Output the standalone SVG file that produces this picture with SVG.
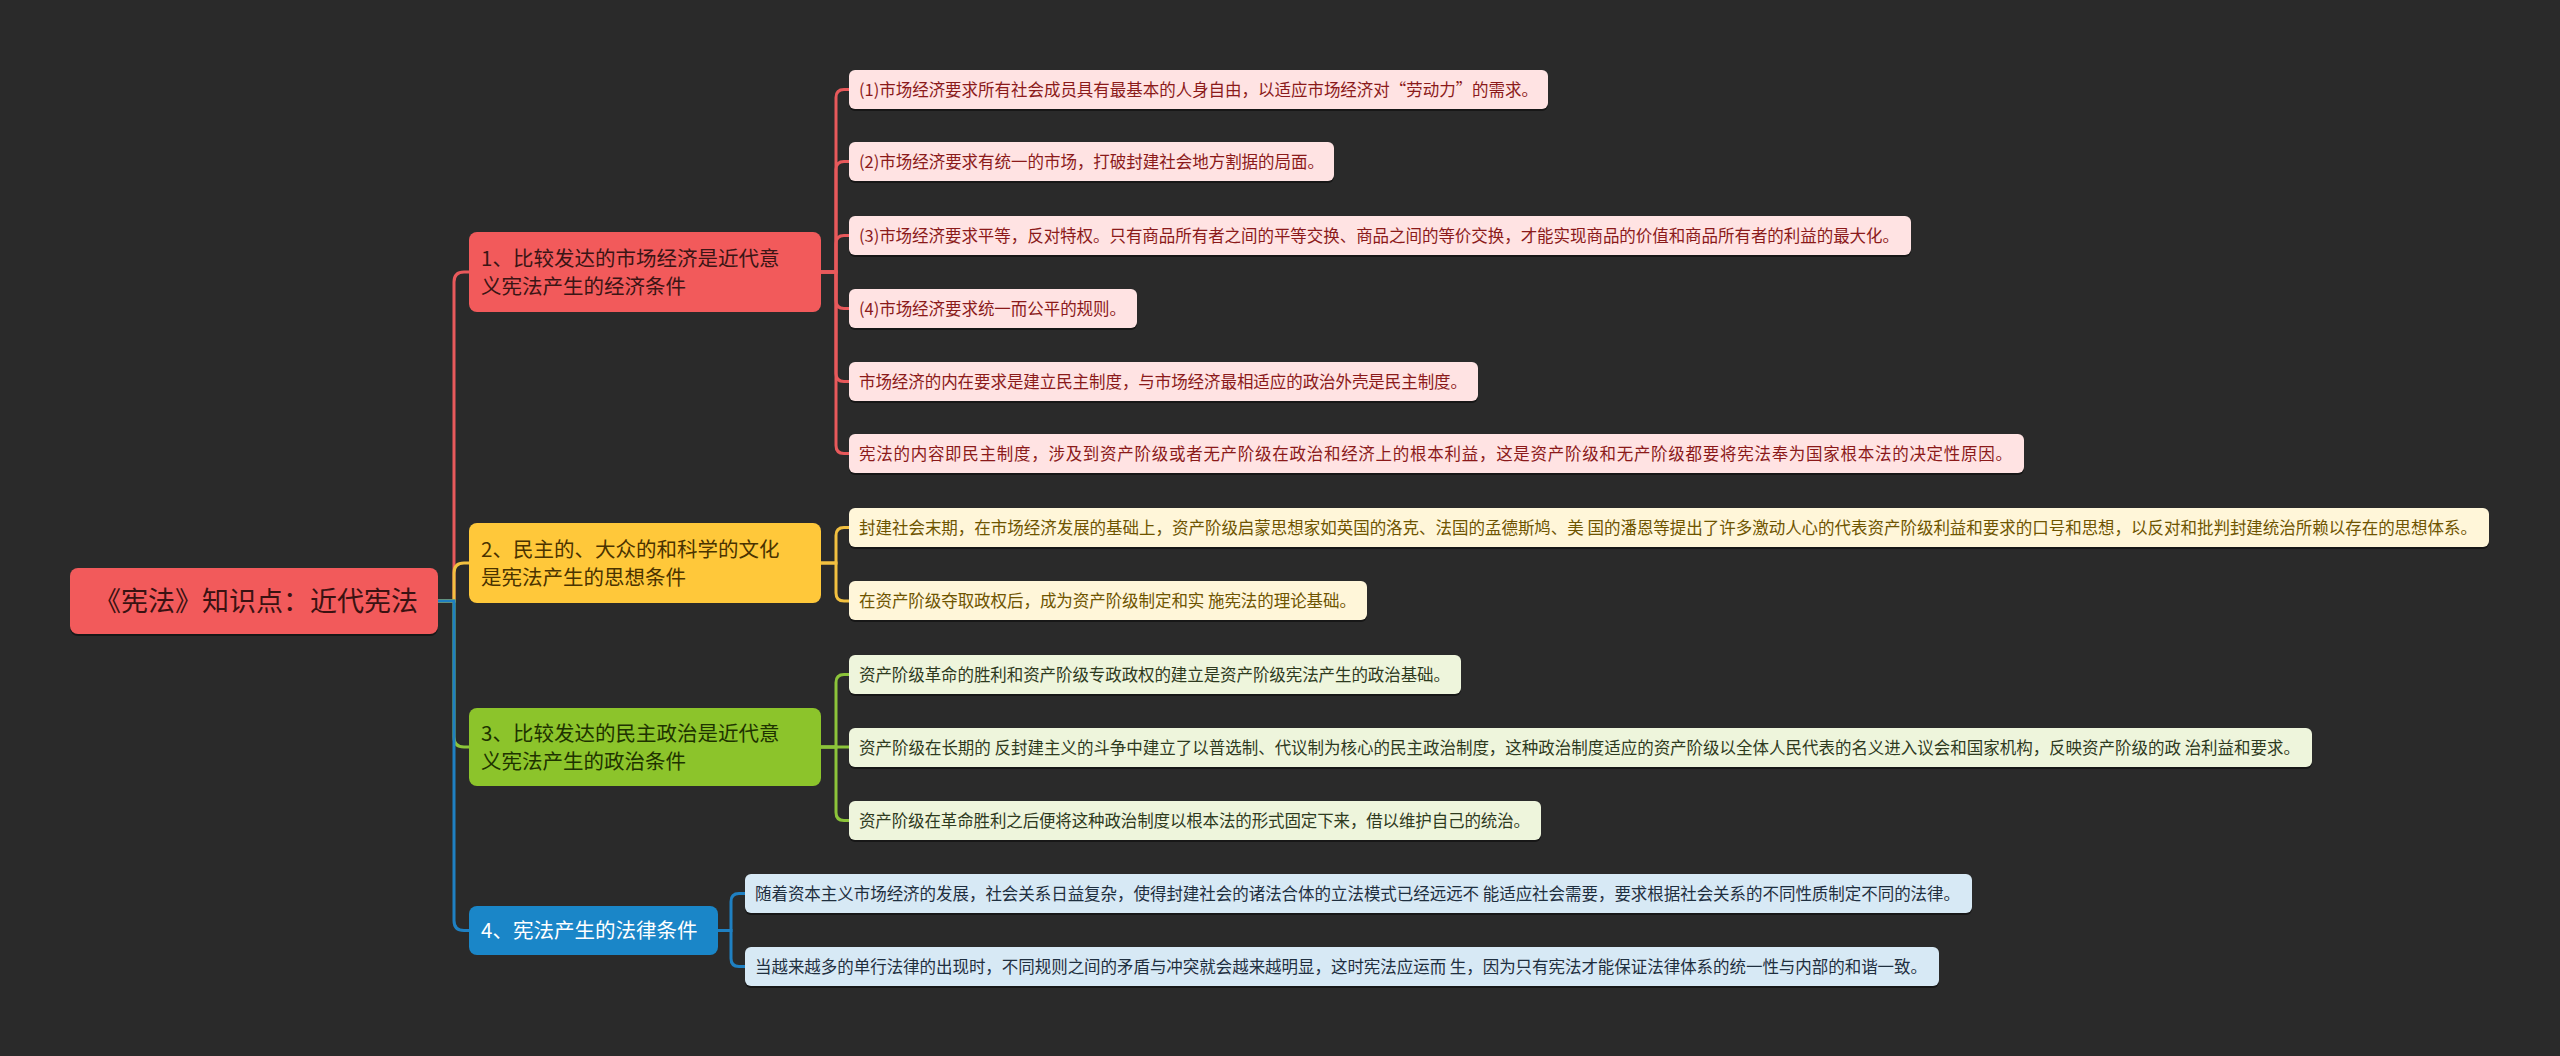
<svg xmlns="http://www.w3.org/2000/svg" width="2560" height="1056" viewBox="0 0 2560 1056">
<style>
text{font-family:"Noto Sans CJK SC","Noto Sans",sans-serif;}
.root{fill:#F25A5B;}
.rt{font-size:27px;fill:#3a1212;}
.bt{font-size:20.5px;}
.lt{font-size:16.5px;}
.sh{fill:#111;opacity:.75;}
.c{fill:none;stroke-width:3;}
.cr{stroke:#E8595B;} .cy{stroke:#F2C040;} .cg{stroke:#8CC43A;} .cb{stroke:#1F80C2;}
.p{fill:#FFE3E3;} .pt{fill:#8B1A1A;}
.y{fill:#FFF6D9;} .yt{fill:#6E5400;}
.g{fill:#EEF5DC;} .gt{fill:#2E3A1E;}
.b{fill:#D7E9F5;} .btx{fill:#1F2F3F;}
</style>
<rect width="2560" height="1056" fill="#2a2a2a"/>
<g id="connectors">
<path class="c cr" d="M438,601 H454 V282 Q454,272 464,272 H469"/>
<path class="c cy" d="M438,601 H454 V573 Q454,563 464,563 H469"/>
<path class="c cg" d="M438,601 H454 V737 Q454,747 464,747 H469"/>
<path class="c cb" d="M438,601 H454 V920.5 Q454,930.5 464,930.5 H469"/>
<path class="c cr" d="M820,272 H836 V97.5 Q836,89.5 844,89.5 H849"/>
<path class="c cr" d="M820,272 H836 V169.5 Q836,161.5 844,161.5 H849"/>
<path class="c cr" d="M820,272 H836 V243.5 Q836,235.5 844,235.5 H849"/>
<path class="c cr" d="M820,272 H836 V300.5 Q836,308.5 844,308.5 H849"/>
<path class="c cr" d="M820,272 H836 V373.5 Q836,381.5 844,381.5 H849"/>
<path class="c cr" d="M820,272 H836 V445.5 Q836,453.5 844,453.5 H849"/>
<path class="c cy" d="M820,563 H836 V535.5 Q836,527.5 844,527.5 H849"/>
<path class="c cy" d="M820,563 H836 V593 Q836,601 844,601 H849"/>
<path class="c cg" d="M820,747 H836 V682.5 Q836,674.5 844,674.5 H849"/>
<path class="c cg" d="M820,747 H849"/>
<path class="c cg" d="M820,747 H836 V812.5 Q836,820.5 844,820.5 H849"/>
<path class="c cb" d="M718,930.5 H731 V901.5 Q731,893.5 739,893.5 H745"/>
<path class="c cb" d="M718,930.5 H731 V958.5 Q731,966.5 739,966.5 H745"/>
</g>
<g id="root">
<rect class="sh" x="70" y="570" width="368" height="66" rx="8"/>
<rect class="root" x="70" y="568" width="368" height="66" rx="8"/>
<text class="rt" x="256" y="611" text-anchor="middle">《宪法》知识点：近代宪法</text>
</g>
<g id="branch1">
<rect x="469" y="232" width="352" height="80" rx="8" fill="#F25A5B"/>
<text class="bt" fill="#3b1515"><tspan x="481" y="266">1、比较发达的市场经济是近代意</tspan><tspan x="481" y="294">义宪法产生的经济条件</tspan></text>
</g>
<g id="branch2">
<rect x="469" y="523" width="352" height="80" rx="8" fill="#FFC83A"/>
<text class="bt" fill="#4a3300"><tspan x="481" y="557">2、民主的、大众的和科学的文化</tspan><tspan x="481" y="585">是宪法产生的思想条件</tspan></text>
</g>
<g id="branch3">
<rect x="469" y="708" width="352" height="78" rx="8" fill="#8CC42B"/>
<text class="bt" fill="#1e3300"><tspan x="481" y="741">3、比较发达的民主政治是近代意</tspan><tspan x="481" y="769">义宪法产生的政治条件</tspan></text>
</g>
<g id="branch4">
<rect x="469" y="906" width="249" height="49" rx="8" fill="#1A86C8"/>
<text class="bt" fill="#ffffff" x="481" y="938">4、宪法产生的法律条件</text>
</g>
<g id="leaf1-1"><rect class="sh" x="849" y="72" width="699" height="39" rx="6"/><rect class="p" x="849" y="70" width="699" height="39" rx="6"/><text class="lt pt" x="859" y="96" textLength="679">(1)市场经济要求所有社会成员具有最基本的人身自由，以适应市场经济对“劳动力”的需求。</text></g>
<g id="leaf1-2"><rect class="sh" x="849" y="144" width="485" height="39" rx="6"/><rect class="p" x="849" y="142" width="485" height="39" rx="6"/><text class="lt pt" x="859" y="168" textLength="465">(2)市场经济要求有统一的市场，打破封建社会地方割据的局面。</text></g>
<g id="leaf1-3"><rect class="sh" x="849" y="218" width="1062" height="39" rx="6"/><rect class="p" x="849" y="216" width="1062" height="39" rx="6"/><text class="lt pt" x="859" y="242" textLength="1040">(3)市场经济要求平等，反对特权。只有商品所有者之间的平等交换、商品之间的等价交换，才能实现商品的价值和商品所有者的利益的最大化。</text></g>
<g id="leaf1-4"><rect class="sh" x="849" y="291" width="288" height="39" rx="6"/><rect class="p" x="849" y="289" width="288" height="39" rx="6"/><text class="lt pt" x="859" y="315" textLength="267">(4)市场经济要求统一而公平的规则。</text></g>
<g id="leaf1-5"><rect class="sh" x="849" y="364" width="629" height="39" rx="6"/><rect class="p" x="849" y="362" width="629" height="39" rx="6"/><text class="lt pt" x="859" y="388" textLength="608">市场经济的内在要求是建立民主制度，与市场经济最相适应的政治外壳是民主制度。</text></g>
<g id="leaf1-6"><rect class="sh" x="849" y="436" width="1175" height="39" rx="6"/><rect class="p" x="849" y="434" width="1175" height="39" rx="6"/><text class="lt pt" x="859" y="460" textLength="1153">宪法的内容即民主制度，涉及到资产阶级或者无产阶级在政治和经济上的根本利益，这是资产阶级和无产阶级都要将宪法奉为国家根本法的决定性原因。</text></g>
<g id="leaf2-1"><rect class="sh" x="849" y="510" width="1640" height="39" rx="6"/><rect class="y" x="849" y="508" width="1640" height="39" rx="6"/><text class="lt yt" x="859" y="534" textLength="1618">封建社会末期，在市场经济发展的基础上，资产阶级启蒙思想家如英国的洛克、法国的孟德斯鸠、美 国的潘恩等提出了许多激动人心的代表资产阶级利益和要求的口号和思想，以反对和批判封建统治所赖以存在的思想体系。</text></g>
<g id="leaf2-2"><rect class="sh" x="849" y="583" width="518" height="39" rx="6"/><rect class="y" x="849" y="581" width="518" height="39" rx="6"/><text class="lt yt" x="859" y="607" textLength="497">在资产阶级夺取政权后，成为资产阶级制定和实 施宪法的理论基础。</text></g>
<g id="leaf3-1"><rect class="sh" x="849" y="657" width="612" height="39" rx="6"/><rect class="g" x="849" y="655" width="612" height="39" rx="6"/><text class="lt gt" x="859" y="681" textLength="591">资产阶级革命的胜利和资产阶级专政政权的建立是资产阶级宪法产生的政治基础。</text></g>
<g id="leaf3-2"><rect class="sh" x="849" y="730" width="1463" height="39" rx="6"/><rect class="g" x="849" y="728" width="1463" height="39" rx="6"/><text class="lt gt" x="859" y="754" textLength="1441">资产阶级在长期的 反封建主义的斗争中建立了以普选制、代议制为核心的民主政治制度，这种政治制度适应的资产阶级以全体人民代表的名义进入议会和国家机构，反映资产阶级的政 治利益和要求。</text></g>
<g id="leaf3-3"><rect class="sh" x="849" y="803" width="692" height="39" rx="6"/><rect class="g" x="849" y="801" width="692" height="39" rx="6"/><text class="lt gt" x="859" y="827" textLength="671">资产阶级在革命胜利之后便将这种政治制度以根本法的形式固定下来，借以维护自己的统治。</text></g>
<g id="leaf4-1"><rect class="sh" x="745" y="876" width="1227" height="39" rx="6"/><rect class="b" x="745" y="874" width="1227" height="39" rx="6"/><text class="lt btx" x="755" y="900" textLength="1205">随着资本主义市场经济的发展，社会关系日益复杂，使得封建社会的诸法合体的立法模式已经远远不 能适应社会需要，要求根据社会关系的不同性质制定不同的法律。</text></g>
<g id="leaf4-2"><rect class="sh" x="745" y="949" width="1194" height="39" rx="6"/><rect class="b" x="745" y="947" width="1194" height="39" rx="6"/><text class="lt btx" x="755" y="973" textLength="1172">当越来越多的单行法律的出现时，不同规则之间的矛盾与冲突就会越来越明显，这时宪法应运而 生，因为只有宪法才能保证法律体系的统一性与内部的和谐一致。</text></g>
</svg>
